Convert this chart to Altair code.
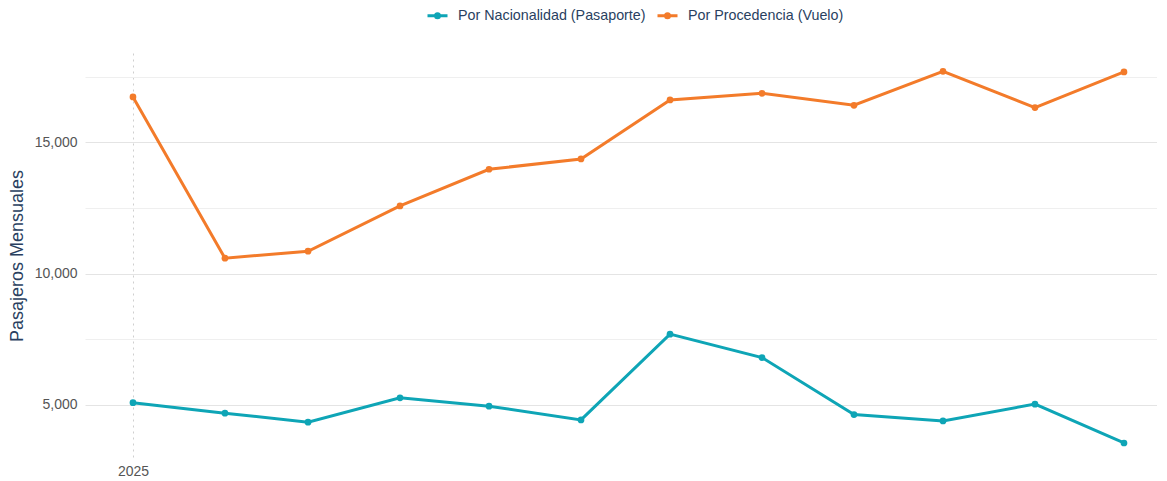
import altair as alt
import pandas as pd

months = ["2025-01-01", "2025-02-01", "2025-03-01", "2025-04-01", "2025-05-01", "2025-06-01",
          "2025-07-01", "2025-08-01", "2025-09-01", "2025-10-01", "2025-11-01", "2025-12-01"]
pasaporte = [5080, 4681, 4337, 5268, 4949, 4426, 7691, 6798, 4630, 4388, 5026, 3546]
vuelo = [16726, 10584, 10850, 12576, 13972, 14365, 16612, 16865, 16409, 17703, 16320, 17678]
series_names = ["Por Nacionalidad (Pasaporte)", "Por Procedencia (Vuelo)"]
colors = ["#0ea5b6", "#f37b2a"]
y_ticks = [2500, 5000, 7500, 10000, 12500, 15000, 17500]

rows = []
for m, v in zip(months, pasaporte):
    rows.append({"fecha": m, "valor": v, "serie": series_names[0]})
for m, v in zip(months, vuelo):
    rows.append({"fecha": m, "valor": v, "serie": series_names[1]})
df = pd.DataFrame(rows)

FONT = "Liberation Sans"

legend_symbol = "M-1,0H1M-0.2,0a0.2,0.2 0 1,0 0.4,0a0.2,0.2 0 1,0 -0.4,0"

x = alt.X(
    "fecha:T",
    title=None,
    scale=alt.Scale(domain=["2024-12-15T20:00:00", "2025-12-12T03:00:00"]),
    axis=alt.Axis(
        values=[alt.DateTime(year=2025, month=1, date=1)],
        format="%Y",
        labelFont=FONT, labelFontSize=14, labelColor="#555555",
        labelPadding=6,
        domain=False, ticks=False,
        grid=True, gridDash=[2, 4], gridColor="#cfcfcf", gridWidth=1,
    ),
)
y = alt.Y(
    "valor:Q",
    title="Pasajeros Mensuales",
    scale=alt.Scale(domain=[2974, 18400], nice=False, zero=False),
    axis=alt.Axis(
        values=y_ticks,
        labelExpr="datum.value % 5000 === 0 ? format(datum.value, ',') : ''",
        labelFont=FONT, labelFontSize=14, labelColor="#555555",
        labelPadding=8,
        titleFont=FONT, titleFontSize=18, titleFontWeight="normal", titleColor="#2a3f5f",
        titleX=-59,
        domain=False, ticks=False,
        grid=True,
        gridColor={"condition": {"test": "datum.value % 5000 === 0", "value": "#e4e4e4"}, "value": "#efefef"},
        gridWidth=1,
    ),
)
color = alt.Color(
    "serie:N",
    scale=alt.Scale(domain=series_names, range=colors),
    legend=alt.Legend(
        title=None, orient="none", direction="horizontal",
        legendX=341, legendY=-49,
        labelFont=FONT, labelFontSize=14.3, labelColor="#2a3f5f", labelLimit=0,
        symbolType=legend_symbol, symbolSize=400, symbolStrokeWidth=3,
        columnPadding=5, labelOffset=9,
    ),
)

base = alt.Chart(df)
lines = base.mark_line(strokeWidth=3).encode(x=x, y=y, color=color)
points = base.mark_point(filled=True, size=45, opacity=1).encode(
    x=x, y=y,
    color=alt.Color("serie:N", scale=alt.Scale(domain=series_names, range=colors), legend=None),
)

chart = (lines + points).properties(
    width=1072, height=405,
    background="white",
    autosize=alt.AutoSizeParams(type="none"),
    padding={"left": 77, "top": 45, "right": 0, "bottom": 20},
).configure_view(strokeWidth=0, stroke=None)

chart.save("out.html", embed_options={"renderer": "svg", "actions": False})
